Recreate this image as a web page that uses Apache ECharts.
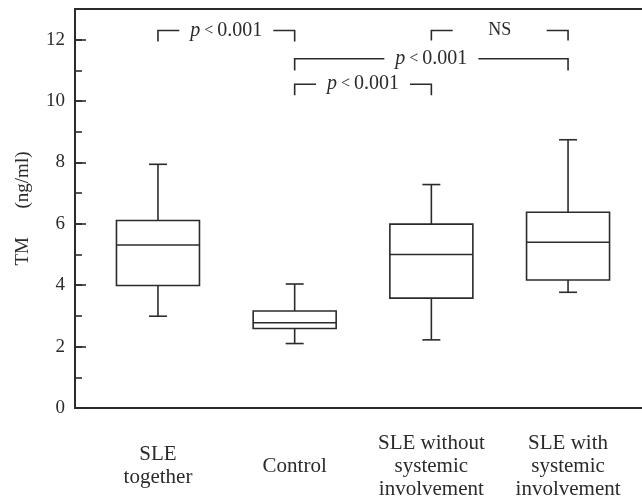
<!DOCTYPE html>
<html>
<head>
<meta charset="utf-8">
<script src="https://cdn.jsdelivr.net/npm/echarts@6/dist/echarts.min.js"></script>
<style>
html,body{margin:0;padding:0;background:#fff;}
#chart{width:642px;height:496px;}
</style>
</head>
<body>
<div id="chart"></div>
<script>
// ---- data ----
const categories = ['SLE\ntogether', 'Control', 'SLE without\nsystemic\ninvolvement', 'SLE with\nsystemic\ninvolvement'];
const categoryPos = [1, 2, 3, 4];
const whiskerLow  = [2.99, 2.10, 2.22, 3.77];
const q1          = [3.99, 2.59, 3.58, 4.17];
const median      = [5.31, 2.78, 5.00, 5.40];
const q3          = [6.11, 3.16, 5.99, 6.38];
const whiskerHigh = [7.94, 4.04, 7.28, 8.74];

const yTicks = [0, 2, 4, 6, 8, 10, 12];

const bracketFrom   = [1, 3, 2, 2];
const bracketTo     = [2, 4, 4, 3];
const bracketY      = [12.30, 12.30, 11.38, 10.55];
const bracketTip    = [11.94, 11.97, 11.00, 10.19];
const bracketLabels = ['p < 0.001', 'NS', 'p < 0.001', 'p < 0.001'];

// ---- chart ----
const INK = '#2b2b2b';
const FONT = '"Liberation Serif", "DejaVu Serif", serif';

const boxData = categoryPos.map((x, i) => [x, whiskerLow[i], q1[i], median[i], q3[i], whiskerHigh[i]]);
const bracketData = bracketFrom.map((x1, i) => [x1, bracketTo[i], bracketY[i], bracketTip[i]]);

function renderBox(params, api) {
  const x = api.value(0);
  const lo = api.coord([x, api.value(1)]);
  const b1 = api.coord([x, api.value(2)]);
  const md = api.coord([x, api.value(3)]);
  const b3 = api.coord([x, api.value(4)]);
  const hi = api.coord([x, api.value(5)]);
  const cx = lo[0];
  const hw = 41.5, cw = 9;
  const st = { stroke: INK, lineWidth: 1.6, fill: null };
  return {
    type: 'group',
    children: [
      { type: 'rect', shape: { x: cx - hw, y: b3[1], width: hw * 2, height: b1[1] - b3[1] }, style: { stroke: INK, lineWidth: 1.6, fill: 'rgba(0,0,0,0)' } },
      { type: 'line', shape: { x1: cx - hw, y1: md[1], x2: cx + hw, y2: md[1] }, style: st },
      { type: 'line', shape: { x1: cx, y1: b3[1], x2: cx, y2: hi[1] }, style: st },
      { type: 'line', shape: { x1: cx - cw, y1: hi[1], x2: cx + cw, y2: hi[1] }, style: st },
      { type: 'line', shape: { x1: cx, y1: b1[1], x2: cx, y2: lo[1] }, style: st },
      { type: 'line', shape: { x1: cx - cw, y1: lo[1], x2: cx + cw, y2: lo[1] }, style: st }
    ]
  };
}

function renderBracket(params, api) {
  const p1 = api.coord([api.value(0), api.value(2)]);
  const p2 = api.coord([api.value(1), api.value(2)]);
  const t1 = api.coord([api.value(0), api.value(3)]);
  const mid = (p1[0] + p2[0]) / 2;
  const gap = 47;
  const y = p1[1];
  const st = { stroke: INK, lineWidth: 1.6, fill: null };
  const label = bracketLabels[params.dataIndex];
  let textStyle;
  if (label.indexOf('p') === 0) {
    textStyle = {
      text: '{i|p}{s| < }{n|0.001}',
      x: mid, y: y, align: 'center', verticalAlign: 'middle',
      rich: {
        i: { fontFamily: FONT, fontStyle: 'italic', fontSize: 20, fill: INK },
        s: { fontFamily: FONT, fontSize: 16, fill: INK },
        n: { fontFamily: FONT, fontSize: 20, fill: INK }
      }
    };
  } else {
    textStyle = { text: label, x: mid, y: y, align: 'center', verticalAlign: 'middle', fontFamily: FONT, fontSize: 18, fill: INK };
  }
  return {
    type: 'group',
    children: [
      { type: 'polyline', shape: { points: [[p1[0], t1[1]], [p1[0], y], [mid - gap, y]] }, style: st },
      { type: 'polyline', shape: { points: [[mid + gap, y], [p2[0], y], [p2[0], t1[1]]] }, style: st },
      { type: 'text', style: textStyle }
    ]
  };
}

const chart = echarts.init(document.getElementById('chart'), null, { renderer: 'canvas' });
chart.setOption({
  backgroundColor: '#fff',
  animation: false,
  grid: { left: 75, right: 0, top: 9, bottom: 88, outerBoundsMode: 'none', containLabel: false },
  xAxis: [
    {
      type: 'value', min: 0.393, max: 4.541,
      splitLine: { show: false },
      axisLine: { show: true, onZero: false, lineStyle: { color: INK, width: 2 } },
      axisTick: { show: false },
      axisLabel: {
        customValues: categoryPos,
        formatter: v => categories[Math.round(v) - 1],
        margin: 58, verticalAlign: 'middle',
        fontFamily: FONT, fontSize: 21, lineHeight: 23, color: INK
      }
    },
    {
      type: 'value', position: 'top', min: 0.393, max: 4.541,
      splitLine: { show: false },
      axisLine: { show: true, onZero: false, lineStyle: { color: INK, width: 2 } },
      axisTick: { show: false }, axisLabel: { show: false }
    }
  ],
  yAxis: [
    {
      type: 'value', min: 0, max: 13, interval: 2,
      name: 'TM      (ng/ml)', nameLocation: 'middle', nameGap: 42,
      nameTextStyle: { fontFamily: FONT, fontSize: 19, color: INK },
      splitLine: { show: false },
      axisLine: { show: true, lineStyle: { color: INK, width: 2 } },
      axisTick: { show: true, inside: true, length: 11, lineStyle: { color: INK, width: 1.6 } },
      axisLabel: {
        formatter: v => (yTicks.indexOf(v) >= 0 ? String(v) : ''),
        margin: 10, fontFamily: FONT, fontSize: 19, color: INK
      }
    },
    {
      type: 'value', min: 0, max: 13, interval: 1, position: 'left',
      splitLine: { show: false },
      axisLine: { show: false },
      axisTick: { show: true, inside: true, length: 7, lineStyle: { color: INK, width: 1.6 } },
      axisLabel: { show: false }
    }
  ],
  series: [
    {
      type: 'custom', name: 'boxes', renderItem: renderBox, data: boxData,
      encode: { x: 0, y: [1, 2, 3, 4, 5] }, clip: false
    },
    {
      type: 'custom', name: 'brackets', renderItem: renderBracket, data: bracketData,
      encode: { x: [0, 1], y: [2, 3] }, clip: false
    }
  ]
});
</script>
</body>
</html>
